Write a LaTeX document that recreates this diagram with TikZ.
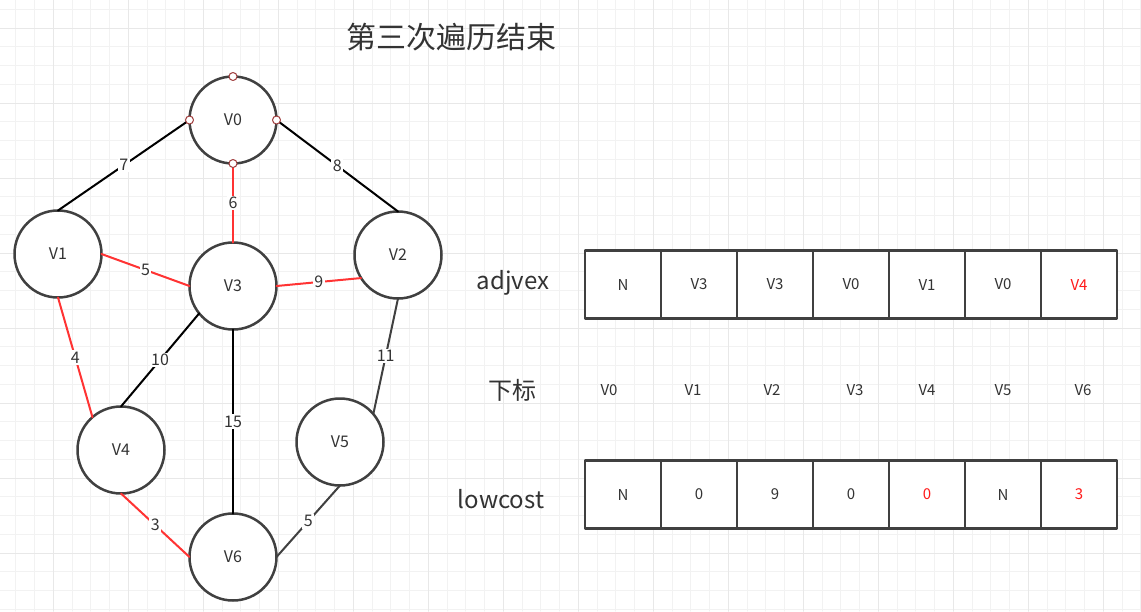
\documentclass[tikz,border=0pt]{standalone}
\usepackage{fontspec}
\setmainfont{Noto Sans CJK SC}
\definecolor{ink}{HTML}{333333}
\definecolor{rim}{HTML}{404040}
\definecolor{redline}{HTML}{FF3333}
\definecolor{redtext}{HTML}{FF1A1A}
\definecolor{portred}{HTML}{A03C3C}
\tikzset{
	vertex/.style={circle, draw=rim, line width=2.5pt, fill=white, minimum size=87pt, inner sep=0pt, outer sep=0pt, text=ink, font=\fontsize{16}{19}\selectfont},
	edge/.style={line width=2pt, draw=black},
	tree/.style={edge, draw=redline},
	grayedge/.style={edge, draw=rim},
	weight/.style={fill=white, inner sep=1.5pt, text=ink, font=\fontsize{16}{19}\selectfont},
	cell/.style={draw=rim, fill=white, line width=2.5pt, minimum width=76pt, minimum height=68pt, inner sep=0pt, text=ink, font=\fontsize{15}{18}\selectfont},
	rowname/.style={text=ink, font=\fontsize{24}{28}\selectfont}
}
\begin{document}
\begin{tikzpicture}[x=1pt, y=-1pt, line join=round, line cap=round]
	\useasboundingbox (0,0) rectangle (1141,611);
	\fill[white] (0,0) rectangle (1141,611);
	% grid
	\foreach \i in {0,...,60} \draw[line width=1pt, draw=black!5] ({15.8+18.75*\i},0) -- ++(0,611);
	\foreach \i in {0,...,32} \draw[line width=1pt, draw=black!5] (0,{9.25+18.75*\i}) -- ++(1141,0);
	\foreach \i in {0,...,14} \draw[line width=1pt, draw=black!9] ({53.3+75*\i},0) -- ++(0,611);
	\foreach \i in {0,...,7} \draw[line width=1pt, draw=black!9] (0,{28+75*\i}) -- ++(1141,0);
	
	\node[text=ink, font=\fontsize{30}{34}\selectfont] (title) at (451,37) {第三次遍历结束};
	
	% graph
	\foreach \v/\x/\y in {V0/233/120, V1/58/254, V2/398/255, V3/233/286, V4/121/450, V5/340/442, V6/233/557}
	\node[vertex] (\v) at (\x,\y) {\v};
	\draw[edge] (V0.west) -- (V1.north) node[weight, midway]{7};
	\draw[edge] (V0.east) -- (V2.north) node[weight, midway]{8};
	\draw[tree] (V0.south) -- (V3.north) node[weight, midway]{6};
	\draw[tree] (V1.east) -- (V3.west) node[weight, midway]{5};
	\draw[tree] (V3.east) -- (V2.212) node[weight, midway]{9};
	\draw[tree] (V1.south) -- (V4.131) node[weight, midway]{4};
	\draw[edge] (V3.219) -- (V4.north) node[weight, midway]{10};
	\draw[edge] (V3.south) -- (V6.north) node[weight, midway]{15};
	\draw[grayedge] (V2.south) -- (V5.40) node[weight, midway]{11};
	\draw[tree] (V4.south) -- (V6.west) node[weight, midway]{3};
	\draw[grayedge] (V5.south) -- (V6.east) node[weight, midway]{5};
	\foreach \a in {north, west, east, south}
	\draw[fill=white, draw=portred, line width=1pt] (V0.\a) circle(4pt);
	
	% arrays
	\node[rowname] (adjvex) at (513,283) {adjvex};
	\node[rowname] (xiabiao) at (512,390) {下标};
	\node[rowname] (lowcost) at (501,499) {lowcost};
	\foreach \i/\t in {0/N, 1/V3, 2/V3, 3/V0, 4/V1, 5/V0, 6/\textcolor{redtext}{V4}}
	\node[cell] (adj\i) at ({623+76*\i},284.5) {\t};
	\foreach \i/\t in {0/N, 1/0, 2/9, 3/0, 4/\textcolor{redtext}{0}, 5/N, 6/\textcolor{redtext}{3}}
	\node[cell] (low\i) at ({623+76*\i},494.5) {\t};
	\foreach \i/\x in {0/609, 1/693, 2/772, 3/855, 4/927, 5/1003, 6/1083}
	\node[text=ink, font=\fontsize{15}{18}\selectfont] (idx\i) at (\x,390) {V\i};
\end{tikzpicture}
\end{document}
